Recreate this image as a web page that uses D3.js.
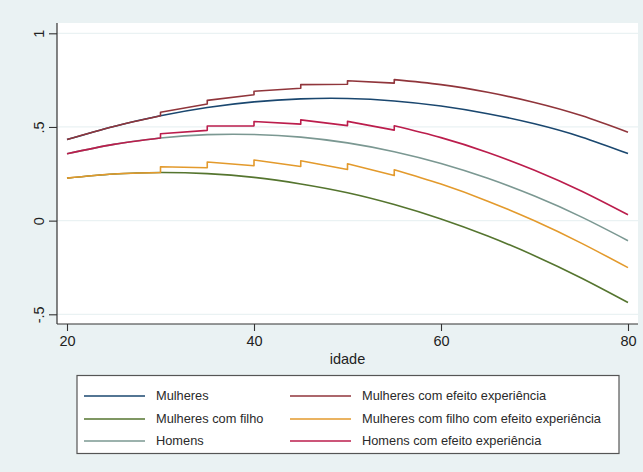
<!DOCTYPE html>
<html>
<head>
<meta charset="utf-8">
<script src="https://cdn.jsdelivr.net/npm/d3@7/dist/d3.min.js"></script>
<style>
  html, body { margin: 0; padding: 0; background: #eaf2f3; }
  svg { display: block; font-family: "Liberation Sans", Arial, sans-serif; }
</style>
</head>
<body>
<svg id="chart" width="643" height="472"></svg>
<script>
// Predicted wage profiles by age
const ages = [20, 25, 30, 35, 40, 45, 50, 55, 60, 65, 70, 75, 80];
const mulheres = [0.433, 0.503, 0.560, 0.604, 0.634, 0.650, 0.652, 0.639, 0.612, 0.571, 0.517, 0.447, 0.358];
const mulheresFilho = [0.227, 0.249, 0.257, 0.251, 0.231, 0.196, 0.149, 0.086, 0.009, -0.082, -0.187, -0.306, -0.437];
const homens = [0.357, 0.407, 0.441, 0.459, 0.460, 0.446, 0.415, 0.368, 0.305, 0.226, 0.131, 0.020, -0.107];

// Experience-effect profiles: repeated ages mark the upward steps
const expAges = [20, 25, 30, 30, 35, 35, 40, 40, 45, 45, 50, 50, 55, 55, 60, 65, 70, 75, 80];
const mulheresExp = [0.433, 0.503, 0.560, 0.579, 0.623, 0.642, 0.672, 0.691, 0.707, 0.726, 0.728, 0.747, 0.734, 0.753, 0.726, 0.685, 0.631, 0.561, 0.472];
const mulheresFilhoExp = [0.227, 0.249, 0.257, 0.288, 0.282, 0.313, 0.293, 0.324, 0.289, 0.320, 0.273, 0.304, 0.241, 0.272, 0.195, 0.104, -0.001, -0.120, -0.251];
const homensExp = [0.357, 0.407, 0.441, 0.464, 0.482, 0.505, 0.506, 0.529, 0.515, 0.538, 0.507, 0.530, 0.483, 0.506, 0.443, 0.364, 0.269, 0.158, 0.031];

const xTicks = [20, 40, 60, 80];
const yTicks = [-0.5, 0, 0.5, 1];
const yTickLabels = ["-.5", "0", ".5", "1"];

const series = [
  { name: "Mulheres", x: ages, y: mulheres, color: "#1a476f" },
  { name: "Mulheres com efeito experiência", x: expAges, y: mulheresExp, color: "#90353b" },
  { name: "Mulheres com filho", x: ages, y: mulheresFilho, color: "#55752f" },
  { name: "Mulheres com filho com efeito experiência", x: expAges, y: mulheresFilhoExp, color: "#e39a2c" },
  { name: "Homens", x: ages, y: homens, color: "#7b9892" },
  { name: "Homens com efeito experiência", x: expAges, y: homensExp, color: "#bb1d4c" }
];

const svg = d3.select("#chart");
const W = 643, H = 472;
const plot = { left: 57, right: 638, top: 23, bottom: 324 };

svg.append("rect").attr("width", W).attr("height", H).attr("fill", "#eaf2f3");
svg.append("rect")
  .attr("x", plot.left).attr("y", plot.top)
  .attr("width", plot.right - plot.left).attr("height", plot.bottom - plot.top)
  .attr("fill", "#ffffff");

const x = d3.scaleLinear().domain([20, 80]).range([67, 628]);
const y = d3.scaleLinear().domain([-0.5, 1]).range([314.3, 33.3]);

// grid lines
svg.append("g").selectAll("line").data(yTicks).join("line")
  .attr("x1", plot.left).attr("x2", plot.right)
  .attr("y1", d => y(d)).attr("y2", d => y(d))
  .attr("stroke", "#eaf2f3").attr("stroke-width", 1.2);

// y axis
const yAxis = d3.axisLeft(y).tickValues(yTicks)
  .tickFormat((d, i) => yTickLabels[i]).tickSize(8).tickPadding(10);
const gy = svg.append("g").attr("transform", `translate(${plot.left},0)`).call(yAxis);
gy.select(".domain").attr("d", `M0,${plot.top}V${plot.bottom}`).attr("stroke", "#333").attr("stroke-width", 1.2);
gy.selectAll(".tick line").attr("stroke", "#333").attr("stroke-width", 1.1);
gy.selectAll(".tick text")
  .attr("font-size", 14.5).attr("fill", "#222")
  .attr("x", null)
  .attr("text-anchor", "middle")
  .attr("transform", "translate(-18,0) rotate(-90)")
  .attr("dy", "0.35em");

// x axis
const xAxis = d3.axisBottom(x).tickValues(xTicks).tickFormat(d3.format("d")).tickSize(7).tickPadding(5);
const gx = svg.append("g").attr("transform", `translate(0,${plot.bottom})`).call(xAxis);
gx.select(".domain").attr("d", `M${plot.left},0H${plot.right}`).attr("stroke", "#333").attr("stroke-width", 1.2);
gx.selectAll(".tick line").attr("stroke", "#333").attr("stroke-width", 1.1);
gx.selectAll(".tick text").attr("font-size", 14.5).attr("fill", "#222");

svg.append("text")
  .attr("x", (plot.left + plot.right) / 2).attr("y", 364)
  .attr("text-anchor", "middle").attr("font-size", 14.5).attr("fill", "#222")
  .text("idade");

// lines: split on repeated ages so each step is drawn as a vertical jump
function pathFor(s) {
  const pts = s.x.map((a, i) => [a, s.y[i]]);
  const segs = [];
  let cur = [];
  pts.forEach((p, i) => {
    if (i > 0 && p[0] === pts[i - 1][0]) { segs.push(cur); cur = []; }
    cur.push(p);
  });
  segs.push(cur);
  const line = d3.line().x(d => x(d[0])).y(d => y(d[1])).curve(d3.curveNatural);
  return segs.map((seg, i) => {
    const d = line(seg);
    return i === 0 ? d : "L" + d.slice(1);
  }).join("");
}

svg.append("g").selectAll("path").data(series).join("path")
  .attr("d", pathFor)
  .attr("fill", "none")
  .attr("stroke", d => d.color)
  .attr("stroke-width", 1.6)
  .attr("stroke-linejoin", "round");

// legend
const lg = svg.append("g");
lg.append("rect")
  .attr("x", 77).attr("y", 375.5).attr("width", 542).attr("height", 78)
  .attr("fill", "#ffffff").attr("stroke", "#555").attr("stroke-width", 1.2);
const colX = [84, 290];
const rowY = [396, 419, 441];
series.forEach((s, i) => {
  const cx = colX[i % 2], cy = rowY[Math.floor(i / 2)];
  lg.append("line")
    .attr("x1", cx).attr("x2", cx + 61).attr("y1", cy).attr("y2", cy)
    .attr("stroke", s.color).attr("stroke-width", 1.6);
  lg.append("text")
    .attr("x", cx + 72).attr("y", cy).attr("dy", "0.35em")
    .attr("font-size", 12.8).attr("fill", "#2a2a2a")
    .text(s.name);
});
</script>
</body>
</html>
